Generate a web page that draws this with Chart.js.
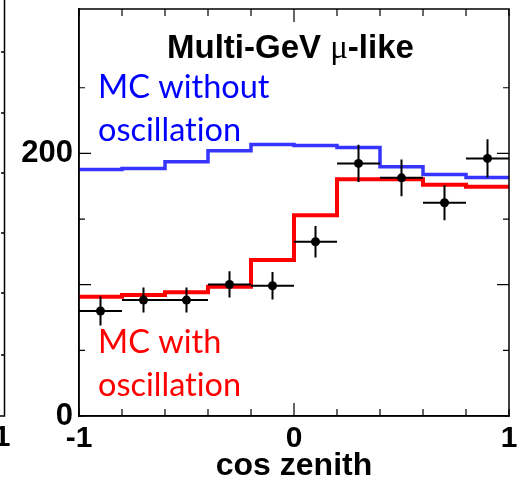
<!DOCTYPE html>
<html>
<head>
<meta charset="UTF-8">
<title>Multi-GeV mu-like</title>
<script src="https://cdn.jsdelivr.net/npm/chart.js"></script>
<style>
  html, body { margin: 0; padding: 0; background: #fff; }
  #wrap { width: 523px; height: 482px; }
</style>
</head>
<body>
<div id="wrap"><canvas id="zenith"></canvas></div>
<script>
// bin edges in cos(zenith)
const binEdges = [-1, -0.8, -0.6, -0.4, -0.2, 0, 0.2, 0.4, 0.6, 0.8, 1];
// MC expectations per bin
const mcNoOsc = [187.8, 188.6, 193.6, 202.0, 206.8, 206.0, 204.5, 189.8, 184.0, 181.7];
const mcOsc   = [90.8, 92.1, 94.2, 98.5, 118.8, 153.0, 180.4, 180.4, 176.2, 174.6];
// data points (bin centres), counts and errors
const dataX   = [-0.9, -0.7, -0.5, -0.3, -0.1, 0.1, 0.3, 0.5, 0.7, 0.9];
const dataY   = [80.0, 88.3, 88.3, 100.2, 99.2, 132.7, 192.4, 181.4, 162.4, 196.2];
const dataErr = [11.0, 9.5, 9.5, 10.0, 10.5, 12.0, 14.2, 14.0, 13.3, 14.5];
const xHalfWidth = 0.1;
const xLabels = ['-1', '0', '1'];
const yLabels = ['0', '200'];

const SANS = '"Liberation Sans", Arial, sans-serif';

// histogram -> points at edges, drawn stepped
function histPoints(vals) {
  const pts = vals.map((v, i) => ({ x: binEdges[i], y: v }));
  pts.push({ x: binEdges[binEdges.length - 1], y: vals[vals.length - 1] });
  return pts;
}

function near(v, list) {
  return list.some(s => Math.abs(v - Number(s)) < 1e-6);
}

// error bars under the markers
const errorBars = {
  id: 'errorBars',
  beforeDatasetDraw(chart, args) {
    if (args.index !== 0) return;
    const { ctx, scales: { x, y } } = chart;
    ctx.save();
    ctx.strokeStyle = '#000';
    ctx.lineWidth = 2;
    dataX.forEach((cx, i) => {
      const px = x.getPixelForValue(cx);
      const py = y.getPixelForValue(dataY[i]);
      ctx.beginPath();
      ctx.moveTo(x.getPixelForValue(cx - xHalfWidth), py);
      ctx.lineTo(x.getPixelForValue(cx + xHalfWidth), py);
      ctx.moveTo(px, y.getPixelForValue(dataY[i] - dataErr[i]));
      ctx.lineTo(px, y.getPixelForValue(dataY[i] + dataErr[i]));
      ctx.stroke();
    });
    ctx.restore();
  }
};

// frame, inward ticks, labels
const frame = {
  id: 'frame',
  afterDraw(chart) {
    const { ctx, chartArea: a, scales: { x, y } } = chart;
    ctx.save();
    ctx.strokeStyle = '#000';
    ctx.lineWidth = 1.5;
    ctx.strokeRect(a.left, a.top, a.right - a.left, a.bottom - a.top);

    ctx.lineWidth = 1.2;
    ctx.beginPath();
    x.ticks.forEach(t => {
      const px = x.getPixelForValue(t.value);
      const len = Math.abs(t.value) < 1e-6 ? 13 : 7;
      ctx.moveTo(px, a.bottom); ctx.lineTo(px, a.bottom - len);
      ctx.moveTo(px, a.top); ctx.lineTo(px, a.top + len);
    });
    y.ticks.forEach(t => {
      if (Math.abs(t.value % 50) > 1e-6) return;
      const py = y.getPixelForValue(t.value);
      const len = t.value % 100 === 0 && t.value > 0 ? 12 : 6;
      ctx.moveTo(a.left, py); ctx.lineTo(a.left + len, py);
      ctx.moveTo(a.right, py); ctx.lineTo(a.right - len, py);
    });
    ctx.stroke();

    // edge of the neighbouring panel
    ctx.lineWidth = 1.5;
    ctx.beginPath();
    ctx.moveTo(4.5, 0); ctx.lineTo(4.5, a.bottom); ctx.lineTo(0, a.bottom);
    [52, 113, 173, 233, 293, 355].forEach(py => { ctx.moveTo(4.5, py); ctx.lineTo(1, py); });
    ctx.stroke();
    ctx.fillStyle = '#000';
    ctx.font = 'bold 30px ' + SANS;
    ctx.textAlign = 'center';
    ctx.textBaseline = 'alphabetic';
    ctx.fillText('1', 2, 446);

    // title with mu
    ctx.textAlign = 'left';
    let tx = 167;
    const ty = 58;
    ctx.font = 'bold 33px ' + SANS;
    ctx.fillText('Multi-GeV ', tx, ty);
    tx += ctx.measureText('Multi-GeV ').width;
    ctx.font = '33px "Liberation Serif", serif';
    ctx.fillText('\u03bc', tx, ty);
    tx += ctx.measureText('\u03bc').width;
    ctx.font = 'bold 33px ' + SANS;
    ctx.fillText('-like', tx, ty);

    ctx.textRendering = 'optimizeSpeed';
    ctx.font = '32.5px Lato, "Open Sans", sans-serif';
    ctx.fillStyle = '#0000ff';
    ctx.fillText('MC without', 98, 98);
    ctx.fillText('oscillation', 98, 141);
    ctx.fillStyle = '#ff0000';
    ctx.fillText('MC with', 98, 353);
    ctx.fillText('oscillation', 98, 396);
    ctx.restore();
  }
};

new Chart(document.getElementById('zenith'), {
  type: 'line',
  data: {
    datasets: [
      {
        type: 'scatter',
        label: 'Data',
        data: dataX.map((v, i) => ({ x: v, y: dataY[i] })),
        pointRadius: 4.5,
        pointBackgroundColor: '#000',
        pointBorderColor: '#000',
        pointBorderWidth: 0
      },
      {
        label: 'MC with oscillation',
        data: histPoints(mcOsc),
        stepped: true,
        borderColor: '#ff0000',
        borderWidth: 4,
        pointRadius: 0,
        fill: false
      },
      {
        label: 'MC without oscillation',
        data: histPoints(mcNoOsc),
        stepped: true,
        borderColor: '#3535ff',
        borderWidth: 3.5,
        pointRadius: 0,
        fill: false
      }
    ]
  },
  options: {
    responsive: true,
    maintainAspectRatio: false,
    animation: false,
    layout: { padding: { left: 0, right: 14, top: 9, bottom: 0 } },
    plugins: {
      legend: { display: false },
      tooltip: { enabled: false }
    },
    scales: {
      x: {
        type: 'linear',
        min: -1,
        max: 1,
        grid: { display: false, drawTicks: false },
        border: { display: true, color: '#000', width: 1.5 },
        ticks: {
          stepSize: 0.2,
          autoSkip: false,
          maxRotation: 0,
          padding: 5,
          color: '#000',
          font: { family: SANS, size: 30, weight: 'bold' },
          callback: v => near(v, xLabels) ? String(Math.round(v)) : ''
        },
        title: {
          display: true,
          text: 'cos zenith',
          color: '#000',
          font: { family: SANS, size: 32, weight: 'bold', lineHeight: 1 },
          padding: { top: 0, bottom: 0 }
        },
        afterFit: s => { s.height = 66; s.paddingLeft = 0; s.paddingRight = 0; }
      },
      y: {
        min: 0,
        max: 310,
        grid: { display: false, drawTicks: false },
        border: { display: true, color: '#000', width: 1.5 },
        ticks: {
          stepSize: 50,
          padding: 6,
          color: '#000',
          font: { family: SANS, size: 31, weight: 'bold' },
          callback: v => near(v, yLabels) ? String(v) : ''
        },
        afterFit: s => { s.width = 79; s.paddingTop = 0; s.paddingBottom = 0; }
      }
    }
  },
  plugins: [errorBars, frame]
});
</script>
</body>
</html>
